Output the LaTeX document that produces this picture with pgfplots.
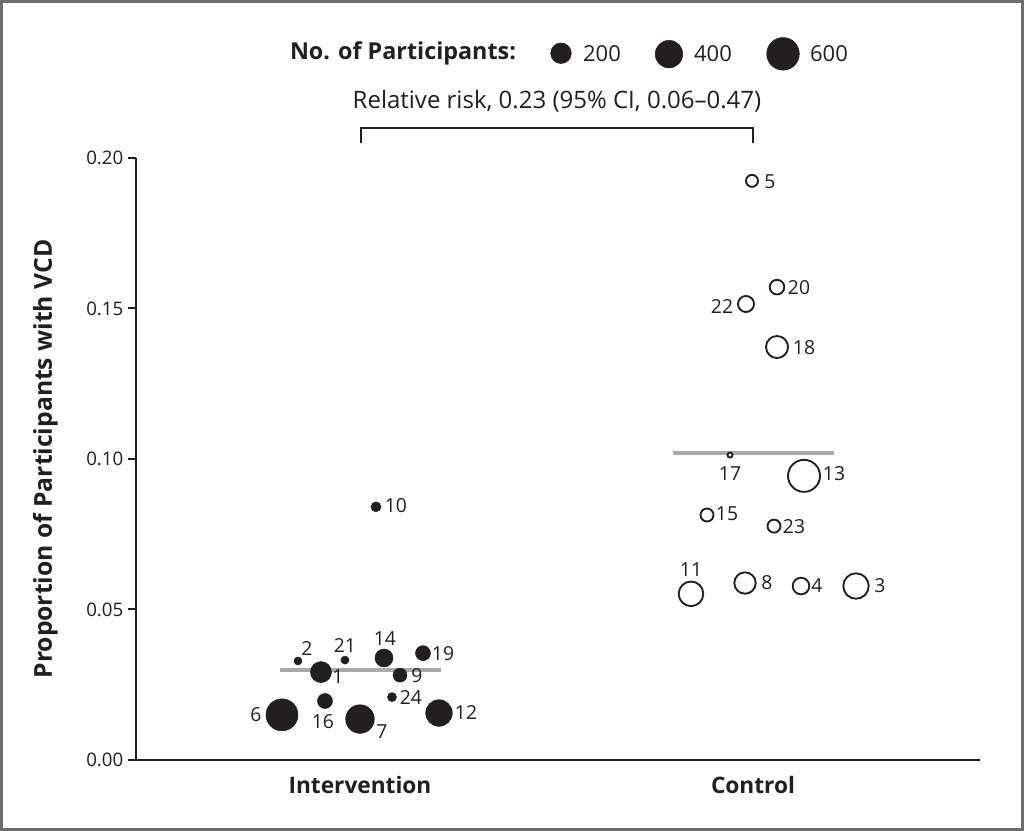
\documentclass[border=0pt]{standalone}
\usepackage{pgfplots}
\pgfplotsset{compat=1.18}
\usepackage{fontspec}
\setmainfont{Open Sans}
\definecolor{ink}{HTML}{231F20}
\definecolor{meanline}{HTML}{A7A9AC}
\definecolor{framegray}{HTML}{6D6E71}

% x positions are in picture pixels (1 px = 0.75 pt), y is the proportion
% r = marker radius in px, lx/ly = where the study number is written
\pgfplotstableread{
id x   y      r    lx  ly
10 376 0.0841 5    396 0.0844
2  298 0.0329 4    307 0.0369
21 345 0.0332 4    345 0.0379
14 384 0.0339 9    385 0.0402
19 423 0.0355 7.5  443 0.0352
1  321 0.0292 10.5 338 0.0276
9  400 0.0282 7    417 0.0279
24 392 0.0209 4.5  411 0.0209
16 325 0.0196 7.5  323 0.0126
6  282 0.0150 16   256 0.0150
7  360 0.0136 14.3 382 0.0093
12 439 0.0156 13.3 466 0.0159
}\intervention

\pgfplotstableread{
id x   y      r    lx  ly
5  752 0.1924 7    770 0.1920
20 777 0.1571 8.3  799 0.1568
22 746 0.1515 9    722 0.1508
18 777 0.1372 12   804 0.1369
17 730 0.1013 3.5  730 0.0950
13 804 0.0944 17   834 0.0950
15 707 0.0814 7.5  727 0.0817
23 774 0.0777 7.5  794 0.0774
11 691 0.0552 13.3 691 0.0631
8  745 0.0588 11.7 767 0.0588
4  801 0.0578 9.3  817 0.0581
3  856 0.0578 13.7 880 0.0578
}\control

\pgfplotstableread{
n   x   y      r    lx
200 561 0.2348 10.3 602
400 669 0.2345 13.8 713
600 783 0.2346 16.3 829
}\sizekey

\newcommand{\ptfont}{\fontsize{14.5}{17}\selectfont}

\begin{document}
\begin{tikzpicture}
\begin{axis}[
    scale only axis,
    width=633pt, height=451.5pt,
    xmin=136, xmax=980, ymin=0, ymax=0.2,
    axis x line*=bottom, axis y line*=left,
    axis line style={-, draw=ink, line width=1.5pt},
    clip=false,
    xtick={360,753}, xticklabels={Intervention, Control},
    xtick style={draw=none},
    xticklabel style={font=\fontsize{17}{20}\selectfont\bfseries, text=ink, yshift=-3pt},
    ytick={0,0.05,0.1,0.15,0.2},
    yticklabel style={/pgf/number format/fixed, /pgf/number format/fixed zerofill,
        /pgf/number format/precision=2, font=\fontsize{14}{17}\selectfont, text=ink},
    /pgf/number format/assume math mode=true,
    tick align=outside, major tick length=6pt,
    ytick style={draw=ink, line width=1.5pt},
    ylabel={Proportion of Participants with VCD},
    every axis y label/.style={at={(axis description cs:0,0.5)}, rotate=90,
        anchor=center, yshift=68pt,
        font=\fontsize{18.5}{22}\selectfont\bfseries, text=ink},
    point meta min=0, point meta max=1000,
    every node near coord/.append style={anchor=center, inner sep=0pt, text=ink},
]
% frame round the whole figure
\draw[framegray, line width=2.6pt] (axis cs:1.75,-0.02301) rectangle (axis cs:1022.25,0.25191);

% group means
\addplot[meanline, line width=3pt] coordinates {(280,0.0300) (441,0.0300)};
\addplot[meanline, line width=3pt] coordinates {(673,0.1019) (834,0.1019)};

% intervention: filled circles, radius from the meta column
\addplot[scatter, only marks, mark=*, point meta=explicit,
    scatter/use mapped color={draw=ink, fill=ink},
    scatter/@pre marker code/.append style={/tikz/mark size=0.75*\pgfplotspointmetatransformed},
] table[x=x, y=y, meta=r] {\intervention};

% control: open circles
\addplot[scatter, only marks, mark=*, point meta=explicit,
    scatter/use mapped color={draw=ink, fill=white},
    mark options={line width=1.4pt},
    scatter/@pre marker code/.append style={/tikz/mark size=0.75*(\pgfplotspointmetatransformed-1)},
] table[x=x, y=y, meta=r] {\control};

% study numbers
\addplot[draw=none, mark=none, point meta=explicit symbolic,
    nodes near coords, nodes near coords style={font=\ptfont}]
    table[x=lx, y=ly, meta=id] {\intervention};
\addplot[draw=none, mark=none, point meta=explicit symbolic,
    nodes near coords, nodes near coords style={font=\ptfont}]
    table[x=lx, y=ly, meta=id] {\control};

% size key
\addplot[scatter, only marks, mark=*, point meta=explicit,
    scatter/use mapped color={draw=ink, fill=ink},
    scatter/@pre marker code/.append style={/tikz/mark size=0.75*\pgfplotspointmetatransformed},
] table[x=x, y=y, meta=r] {\sizekey};
\addplot[draw=none, mark=none, point meta=explicit symbolic,
    nodes near coords, nodes near coords style={font=\fontsize{16.5}{20}\selectfont}]
    table[x=lx, y=y, meta=n] {\sizekey};
\node[font=\fontsize{17.5}{21}\selectfont\bfseries, text=ink, anchor=center]
    at (axis cs:403,0.2347) {No. of Participants:};

% relative risk bracket
\addplot[ink, line width=1.5pt] coordinates {(360.7,0.2050) (360.7,0.2098) (753.3,0.2098) (753.3,0.2050)};
\node[font=\fontsize{18}{21}\selectfont, text=ink, anchor=center]
    at (axis cs:557,0.2189) {Relative risk, 0.23 (95\% CI, 0.06--0.47)};
\end{axis}
\end{tikzpicture}
\end{document}
